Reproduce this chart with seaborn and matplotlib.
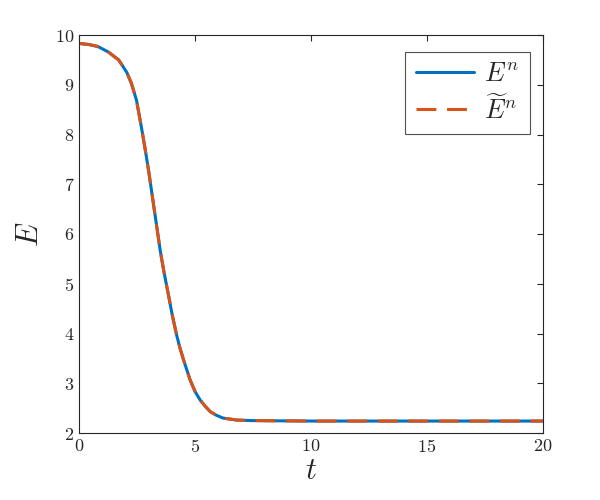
import pandas as pd
import matplotlib
matplotlib.use('Agg')
import matplotlib.pyplot as plt
import seaborn as sns

# valores
t = [0, 0.4, 0.8, 1.25, 1.7, 2.05, 2.25, 2.47, 2.7, 2.85, 3.0, 3.25, 3.5,
     3.65, 3.9, 4.0, 4.2, 4.35, 4.5, 4.78, 5.0, 5.22, 5.45, 5.65, 5.9, 6.2,
     6.5, 6.8, 7.4, 8.5, 10, 15, 20]
E_n = [9.83, 9.81, 9.77, 9.66, 9.5, 9.25, 9.03, 8.69, 8.1, 7.69, 7.25, 6.45,
       5.65, 5.25, 4.65, 4.4, 3.97, 3.7, 3.47, 3.07, 2.83, 2.66, 2.53, 2.43,
       2.36, 2.3, 2.28, 2.26, 2.25, 2.245, 2.24, 2.24, 2.24]
E_tilde = [9.83, 9.81, 9.77, 9.66, 9.5, 9.25, 9.03, 8.69, 8.1, 7.69, 7.25, 6.45,
           5.65, 5.25, 4.65, 4.4, 3.97, 3.7, 3.47, 3.07, 2.83, 2.66, 2.53, 2.43,
           2.36, 2.3, 2.28, 2.26, 2.25, 2.245, 2.24, 2.24, 2.24]

df = pd.DataFrame({'t': t, 'E': E_n, 'Et': E_tilde})

sns.set_theme(style='white')
plt.rcParams['font.family'] = 'serif'
plt.rcParams['font.serif'] = ['cmr10']
plt.rcParams['mathtext.fontset'] = 'cm'
plt.rcParams['axes.formatter.use_mathtext'] = True

fig = plt.figure(figsize=(6, 5), dpi=100)
ax = fig.add_axes([0.132, 0.134, 0.773, 0.796])

sns.lineplot(data=df, x='t', y='E', ax=ax, color='#0072BD', lw=2.2,
             label=r'$E^n$')
sns.lineplot(data=df, x='t', y='Et', ax=ax, color='#D95319', lw=2.2,
             label=r'$\widetilde{E}^n$', linestyle=(0, (6.5, 3.5)))

ax.set_xlim(0, 20)
ax.set_ylim(2, 10)
ax.set_xticks([0, 5, 10, 15, 20])
ax.set_yticks(range(2, 11))
ax.tick_params(direction='in', top=True, right=True, length=4, width=0.8,
               labelsize=13, colors='#262626')
for s in ax.spines.values():
    s.set_color('#262626')
    s.set_linewidth(0.8)

ax.set_xlabel(r'$t$', fontsize=22, labelpad=2)
ax.set_ylabel(r'$E$', fontsize=22, labelpad=8)

leg = ax.legend(loc='upper right', bbox_to_anchor=(0.972, 0.957),
                fontsize=19, handlelength=2.2, frameon=True, fancybox=False,
                edgecolor='#262626', borderaxespad=0, labelspacing=0.3,
                handletextpad=0.4, borderpad=0.4)
leg.get_frame().set_linewidth(0.8)

fig.savefig('out.png', dpi=100, facecolor='white')
